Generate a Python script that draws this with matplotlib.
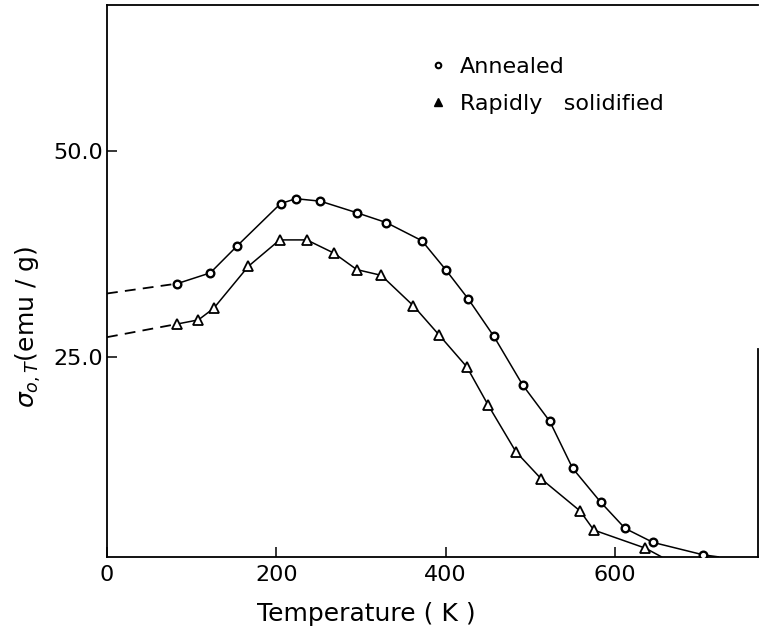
import matplotlib
matplotlib.use("Agg")
import matplotlib.pyplot as plt
from matplotlib.lines import Line2D

# ---- data ----
annealed_T = [83, 122, 154, 205, 223, 252, 295, 330, 372, 400, 427, 457, 491,
              523, 550, 583, 612, 645, 704]
annealed_s = [33.9, 35.2, 38.5, 43.6, 44.2, 43.9, 42.5, 41.3, 39.1, 35.6, 32.0,
              27.5, 21.6, 17.2, 11.5, 7.4, 4.2, 2.5, 1.0]
annealed_tail_T = [704, 722]
annealed_tail_s = [1.0, 0.75]
annealed_extrap_T = [0, 83]
annealed_extrap_s = [32.7, 33.9]

rapid_T = [83, 108, 126, 167, 204, 236, 268, 295, 324, 362, 392, 425, 450,
           483, 513, 559, 575, 636]
rapid_s = [29.0, 29.5, 30.9, 36.0, 39.2, 39.2, 37.6, 35.6, 34.9, 31.2, 27.7,
           23.8, 19.2, 13.5, 10.2, 6.3, 4.0, 1.8]
rapid_tail_T = [636, 655]
rapid_tail_s = [1.8, 0.75]
rapid_extrap_T = [0, 83]
rapid_extrap_s = [27.4, 29.0]

xticks = [0, 200, 400, 600]
xticklabels = ["0", "200", "400", "600"]
yticks = [25.0, 50.0]
yticklabels = ["25.0", "50.0"]

legend_labels = ["Annealed", "Rapidly   solidified"]
xlabel = "Temperature ( K )"
ylabel = r"$\sigma_{o,T}$(emu / g)"

plt.rcParams["font.family"] = ["DejaVu Sans"]

fig = plt.figure(figsize=(7.62, 6.32), dpi=100)
ax = fig.add_axes([107 / 762, 1 - 557 / 632, (758 - 107) / 762, 552 / 632])

lw = 1.1
ax.plot(annealed_T, annealed_s, color="black", lw=lw, marker="o",
        markersize=5.5, markerfacecolor="white", markeredgewidth=1.7, zorder=3)
ax.plot(annealed_tail_T, annealed_tail_s, color="black", lw=lw)
ax.plot(annealed_extrap_T, annealed_extrap_s, color="black", lw=1.3,
        dashes=(6, 4))

ax.plot(rapid_T, rapid_s, color="black", lw=lw, marker="^",
        markersize=6.5, markerfacecolor="white", markeredgewidth=1.3, zorder=3)
ax.plot(rapid_tail_T, rapid_tail_s, color="black", lw=lw)
ax.plot(rapid_extrap_T, rapid_extrap_s, color="black", lw=1.3,
        dashes=(6, 4))

ax.set_xlim(0, 769)
ax.set_ylim(0.73, 67.7)

ax.set_xticks(xticks)
ax.set_xticklabels(xticklabels)
ax.set_yticks(yticks)
ax.set_yticklabels(yticklabels)
ax.tick_params(direction="in", length=7, width=1.1, labelsize=16)
ax.tick_params(axis="x", pad=6)
ax.tick_params(axis="y", pad=3)

for sp in ax.spines.values():
    sp.set_linewidth(1.3)
ax.spines["right"].set_bounds(0.73, 26.0)

handles = [
    Line2D([], [], ls="none", marker="o", markersize=4, markerfacecolor="white",
           markeredgecolor="black", markeredgewidth=1.5),
    Line2D([], [], ls="none", marker="^", markersize=6, color="black"),
]
fig.legend(handles, legend_labels, loc="upper left",
           bbox_to_anchor=(418 / 762, 1 - 46 / 632), frameon=False,
           fontsize=16, handlelength=0.8, handletextpad=0.6, labelspacing=0.75,
           borderpad=0)

fig.text(366 / 762, 1 - 614 / 632, xlabel, ha="center", va="center",
         fontsize=18)
fig.text(28 / 762, 1 - 327 / 632, ylabel, ha="center", va="center",
         rotation=90, fontsize=18)

fig.savefig("out.png", dpi=100)
